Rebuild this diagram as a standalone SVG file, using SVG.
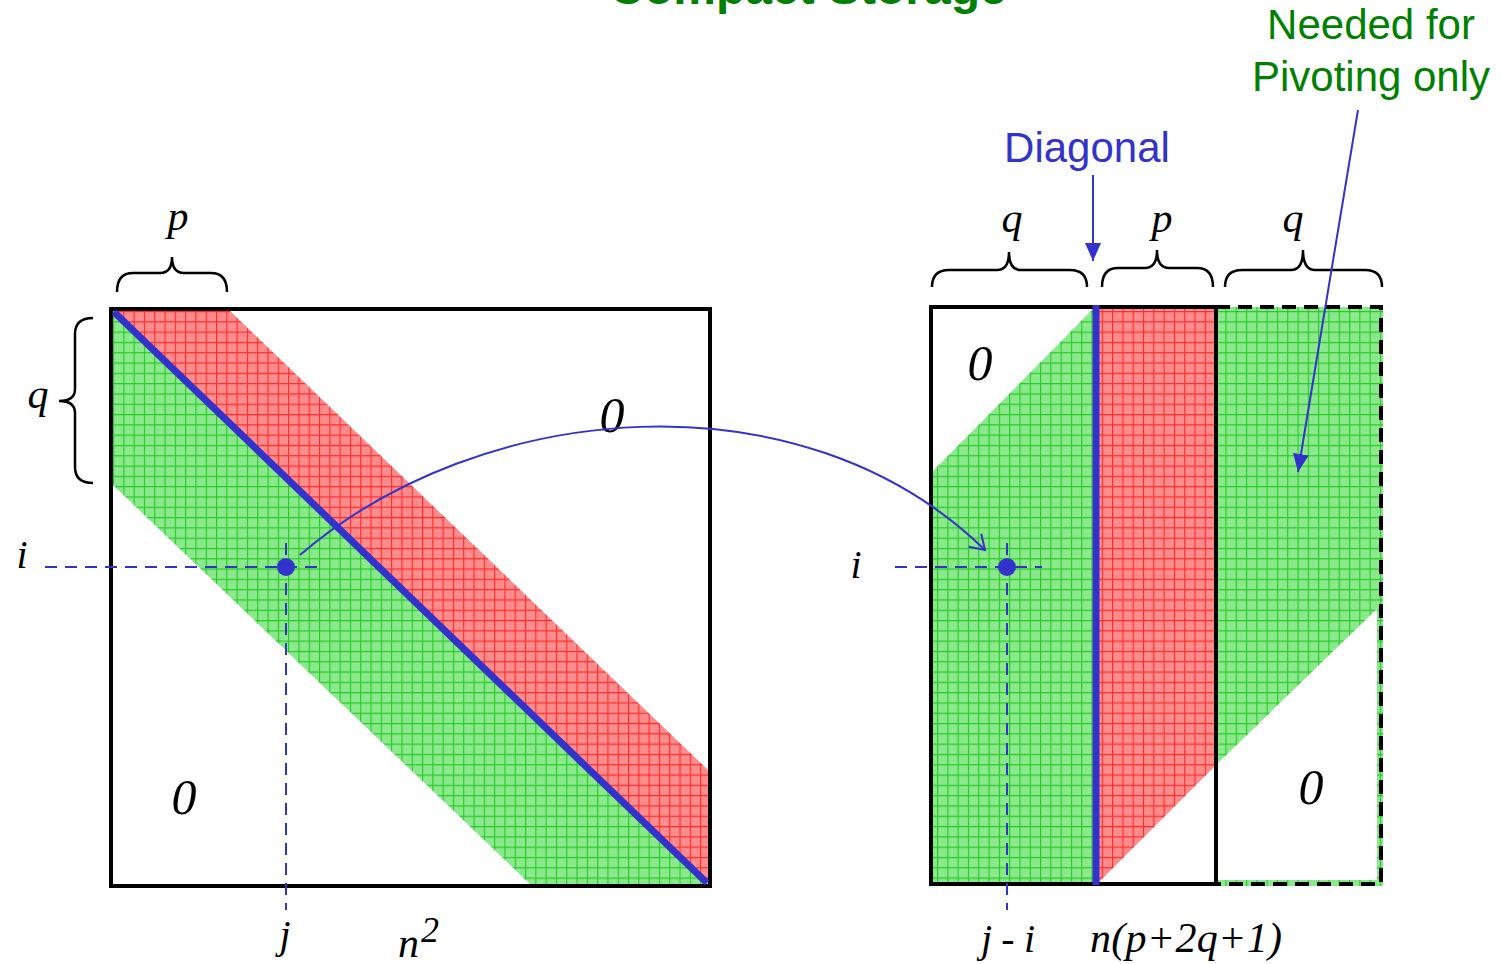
<svg xmlns="http://www.w3.org/2000/svg" width="1501" height="964" viewBox="0 0 1501 964">
<defs>
<pattern id="gG" patternUnits="userSpaceOnUse" width="10.3" height="10.3" x="113" y="311">
<rect width="10.3" height="10.3" fill="#8ce88c"/>
<path d="M0,0.5H10.3M0.5,0V10.3" stroke="#22cc22" stroke-width="1.2"/>
</pattern>
<pattern id="gR" patternUnits="userSpaceOnUse" width="10.3" height="10.3" x="113" y="311">
<rect width="10.3" height="10.3" fill="#ff8c8c"/>
<path d="M0,0.5H10.3M0.5,0V10.3" stroke="#ff2a2a" stroke-width="1.2"/>
</pattern>
<marker id="openArr" markerWidth="24" markerHeight="24" refX="20" refY="12" orient="auto" markerUnits="userSpaceOnUse">
<path d="M6,3 L20,12 L6,21" fill="none" stroke="#3333cc" stroke-width="2"/>
</marker>
<marker id="fillArr" markerWidth="20" markerHeight="16" refX="18" refY="8" orient="auto" markerUnits="userSpaceOnUse">
<path d="M0,0 L18,8 L0,16 Z" fill="#3333cc"/>
</marker>
<style>
.m{font-family:"Liberation Serif","Times New Roman",serif;font-style:italic;fill:#000}
.g{font-family:"Liberation Sans",Arial,sans-serif;fill:#008000}
.b{font-family:"Liberation Sans",Arial,sans-serif;fill:#3333cc}
.brace{fill:none;stroke:#000;stroke-width:2.5}
.dash{fill:none;stroke:#3333cc;stroke-width:2;stroke-dasharray:12 8}
.blue{fill:none;stroke:#3333cc;stroke-width:2}
</style>
</defs>
<rect width="1501" height="964" fill="#fff"/>
<text class="g" x="808" y="4" font-size="48" font-weight="bold" text-anchor="middle">Compact Storage</text>

<g id="left-matrix">
<polygon points="113,311 230,311 708,770 708,884" fill="url(#gR)"/>
<polygon points="113,311 708,884 530,884 113,485" fill="url(#gG)"/>
<rect x="111" y="309" width="599" height="577" fill="none" stroke="#000" stroke-width="4"/>
<line x1="114" y1="312" x2="707" y2="883" stroke="#3333cc" stroke-width="7"/>
<text class="m" x="612" y="432" font-size="50" text-anchor="middle">0</text>
<text class="m" x="184" y="814" font-size="50" text-anchor="middle">0</text>
</g>

<g id="left-braces">
<path class="brace" d="M117,292 Q117,273 133,273 L160,273 Q172,273 172,257 Q172,273 184,273 L211,273 Q227,273 227,292"/>
<text class="m" x="178" y="230" font-size="42" text-anchor="middle">p</text>
<path class="brace" d="M93,318 Q75,318 75,334 L75,389 Q75,401 59,401 Q75,401 75,413 L75,467 Q75,483 93,483"/>
<text class="m" x="38" y="408" font-size="42" text-anchor="middle">q</text>
</g>

<g id="left-point">
<line class="dash" x1="45" y1="567" x2="318" y2="567"/>
<line class="dash" x1="286" y1="543" x2="286" y2="910"/>
<circle cx="286" cy="567" r="9" fill="#3333cc"/>
<text class="m" x="22" y="568" font-size="40" text-anchor="middle">i</text>
<text class="m" x="285" y="948" font-size="40" text-anchor="middle">j</text>
<text class="m" x="398" y="957" font-size="42">n</text>
<text class="m" x="421" y="942" font-size="36" font-style="normal">2</text>
</g>

<g id="right-matrix">
<polygon points="931,473 1093,309 1093,884 931,884" fill="url(#gG)"/>
<polygon points="1096,309 1216,309 1216,765 1099,882 1096,882" fill="url(#gR)"/>
<polygon points="1216,307 1383,307 1383,603 1216,765" fill="url(#gG)"/>
<rect x="1377" y="600" width="6" height="286" fill="url(#gG)"/>
<rect x="1216" y="880" width="167" height="6" fill="url(#gG)"/>
<rect x="931" y="307" width="285" height="577" fill="none" stroke="#000" stroke-width="4"/>
<path d="M1216,307 H1381 V884 H1216" fill="none" stroke="#000" stroke-width="4" stroke-dasharray="14 8"/>
<line x1="1096" y1="305" x2="1096" y2="885" stroke="#3333cc" stroke-width="7"/>
<text class="m" x="980" y="380" font-size="50" text-anchor="middle">0</text>
<text class="m" x="1311" y="804" font-size="50" text-anchor="middle">0</text>
</g>

<g id="right-braces">
<path class="brace" d="M932,287 Q932,270 949,270 L997,270 Q1009,270 1009,252 Q1009,270 1021,270 L1070,270 Q1087,270 1087,287"/>
<text class="m" x="1012" y="232" font-size="42" text-anchor="middle">q</text>
<path class="brace" d="M1102,287 Q1102,268 1118,268 L1145,268 Q1157,268 1157,250 Q1157,268 1169,268 L1197,268 Q1213,268 1213,287"/>
<text class="m" x="1162" y="232" font-size="42" text-anchor="middle">p</text>
<path class="brace" d="M1225,287 Q1225,270 1242,270 L1291,270 Q1303,270 1303,250 Q1303,270 1315,270 L1365,270 Q1382,270 1382,287"/>
<text class="m" x="1293" y="232" font-size="42" text-anchor="middle">q</text>
</g>

<g id="right-point">
<line class="dash" x1="895" y1="567" x2="1042" y2="567"/>
<line class="dash" x1="1007" y1="543" x2="1007" y2="910"/>
<circle cx="1007" cy="567" r="9" fill="#3333cc"/>
<text class="m" x="856" y="578" font-size="40" text-anchor="middle">i</text>
<text class="m" x="1008" y="952" font-size="40" text-anchor="middle" textLength="54">j - i</text>
<text class="m" x="1090" y="952" font-size="42" textLength="192">n(p+2q+1)</text>
</g>

<g id="labels">
<text class="b" x="1087" y="162" font-size="42" text-anchor="middle">Diagonal</text>
<text class="g" x="1371" y="39" font-size="42" text-anchor="middle">Needed for</text>
<text class="g" x="1371" y="91" font-size="42" text-anchor="middle">Pivoting only</text>
</g>

<g id="connectors">
<path class="blue" d="M300,555 C480,400 800,370 985,550" marker-end="url(#openArr)"/>
<line class="blue" x1="1093" y1="175" x2="1093" y2="261" marker-end="url(#fillArr)"/>
<line class="blue" x1="1358" y1="110" x2="1298" y2="472" marker-end="url(#fillArr)"/>
</g>
</svg>
